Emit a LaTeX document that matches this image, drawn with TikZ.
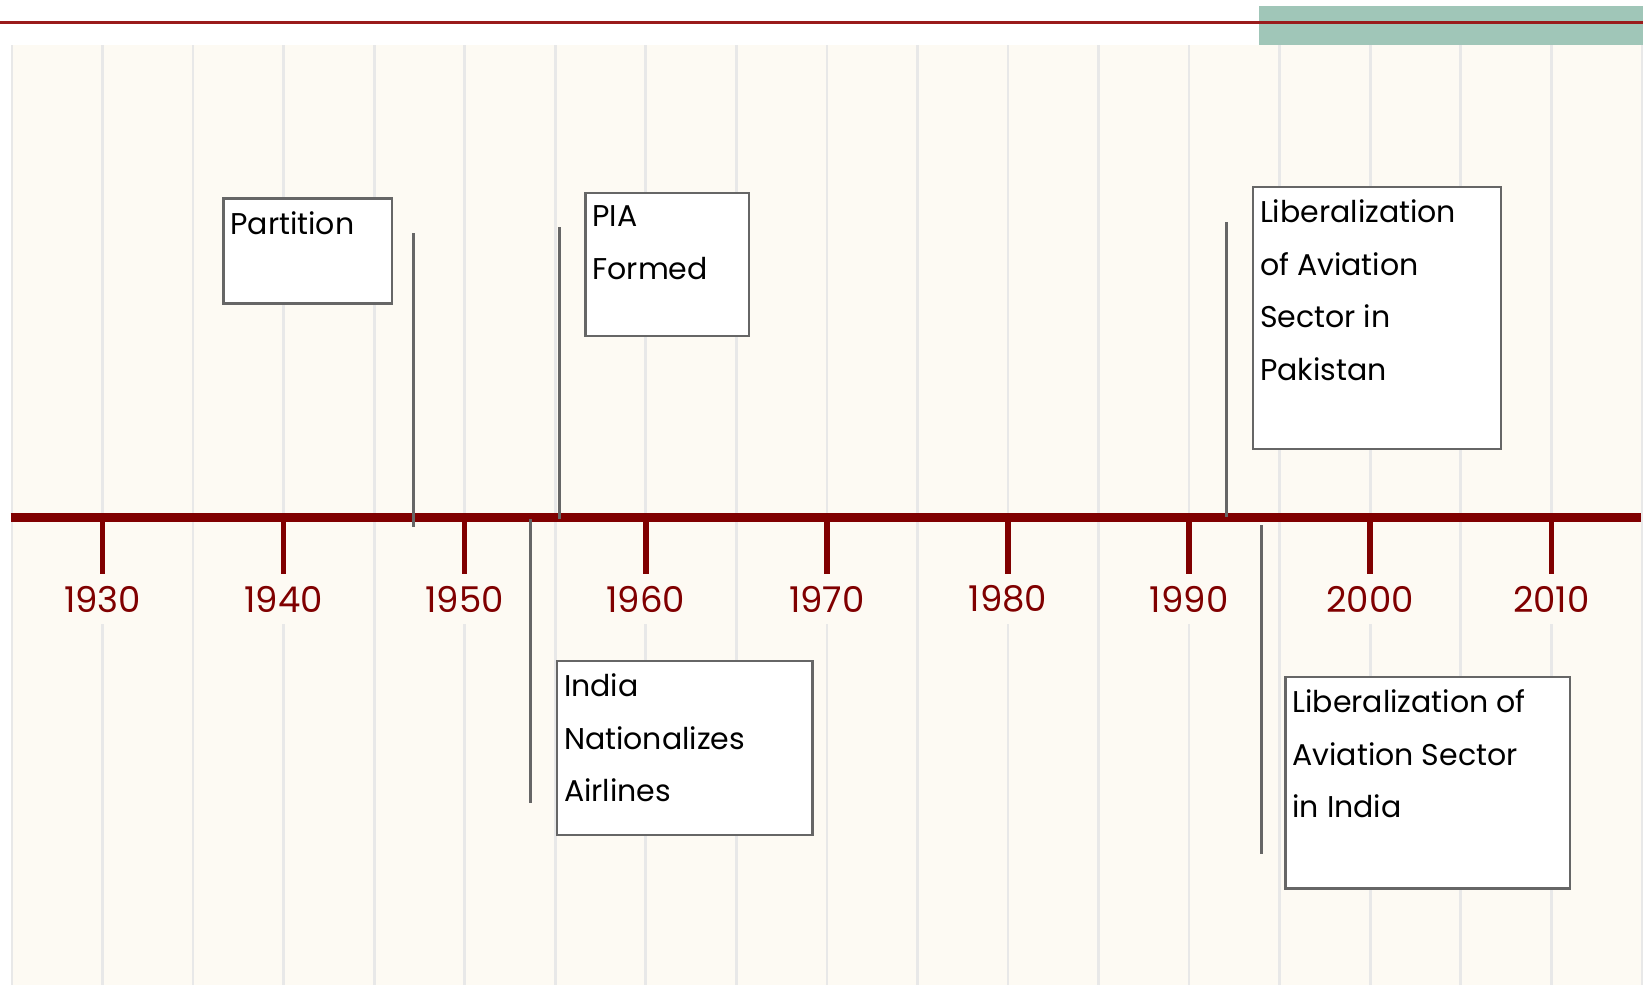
\documentclass[tikz,border=0pt]{standalone}
\usepackage{fontspec}
\setmainfont{Poppins}
\usepackage{tikz}
\usetikzlibrary{positioning}
\usepackage{xcolor}
\definecolor{paper}{HTML}{FDFAF3}
\definecolor{gridgray}{HTML}{E8E8E8}
\definecolor{axisred}{HTML}{800000}
\definecolor{toprule}{HTML}{9A1B1B}
\definecolor{tabgreen}{HTML}{A0C6B8}
\definecolor{boxgray}{HTML}{666666}
\newcommand{\evtext}[3]{\parbox[t][#2][t]{#1}{\raggedright #3}}

\begin{document}
\begin{tikzpicture}[x=1pt, y=-1pt,
  eventbox/.style={draw=boxgray, line width=2.2pt, fill=white, anchor=north west,
      outer sep=0pt, inner xsep=7pt, inner ysep=13pt,
      font=\fontsize{30}{52.5}\selectfont},
  leader/.style={boxgray, line width=2.5pt},
  yearlabel/.style={fill=paper, text=axisred, minimum height=50pt, inner xsep=4pt,
      font=\fontsize{35.5}{35.5}\selectfont},
  tickmark/.style={axisred, line width=5.5pt}]
\useasboundingbox (0,0) rectangle (1643,985);

% header strip
\fill[tabgreen] (1259,6) rectangle (1643,45);
\draw[toprule, line width=3pt] (0,22.7) -- (1643,22.7);

% paper and grid
\fill[paper] (10.5,45) rectangle (1643,985);
\foreach \yr in {1925,1930,...,2015}
  \draw[gridgray, line width=2.7pt] ({102.5+18.11*(\yr-1930)},45) -- ({102.5+18.11*(\yr-1930)},985);

% axis with decades
\foreach \yr in {1930,1940,...,2010}
  \node[yearlabel] (y\yr) at ({102.5+18.11*(\yr-1930)},599) {\yr};
\draw[axisred, line width=9pt] (10.5,517.2) -- (1641,517.2);
\foreach \yr in {1930,1940,...,2010}
  \draw[tickmark] ({102.5+18.11*(\yr-1930)},517.2) -- (y\yr.north);

% leaders
\coordinate (partTop) at (413.3,233);  \coordinate (partBot) at (413.3,527);
\coordinate (piaTop) at (559.3,227);   \coordinate (piaBot) at (559.3,519);
\coordinate (natTop) at (530.3,519);   \coordinate (natBot) at (530.3,803);
\coordinate (pakTop) at (1226.3,222);  \coordinate (pakBot) at (1226.3,517);
\coordinate (libTop) at (1261.7,525);  \coordinate (libBot) at (1261.7,854);
\draw[leader] (partTop) -- (partBot);
\draw[leader] (piaTop) -- (piaBot);
\draw[leader] (natTop) -- (natBot);
\draw[leader] (pakTop) -- (pakBot);
\draw[leader] (libTop) -- (libBot);

% events
\node[eventbox] (partition) at (223.5,198.5) {\evtext{154.5pt}{79pt}{Partition}};
\node[eventbox] (pia) at (585.5,193) {\evtext{149.5pt}{117pt}{PIA\\Formed}};
\node[eventbox] (pakistan) at (1253,187)
  {\evtext{234pt}{236pt}{Liberalization\\of Aviation\\Sector in\\Pakistan}};
\node[eventbox] (nationalize) at (557,661)
  {\evtext{241.5pt}{148pt}{India\\Nationalizes\\Airlines}};
\node[eventbox] (indialib) at (1285.5,677)
  {\evtext{270.5pt}{185.5pt}{Liberalization of\\Aviation Sector\\in India}};
\end{tikzpicture}
\end{document}
